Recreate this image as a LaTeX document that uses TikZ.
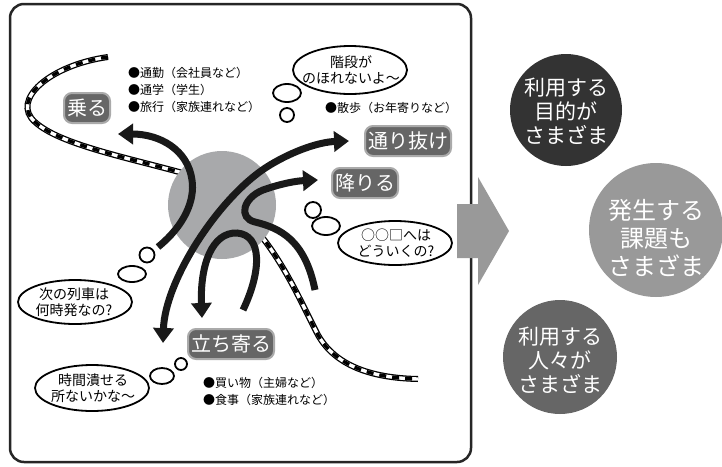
\documentclass[tikz,border=0pt]{standalone}
\usepackage{fontspec}
\setmainfont{Noto Sans CJK JP}
\usetikzlibrary{arrows.meta}
\definecolor{lbl}{HTML}{666666}
\definecolor{lblb}{HTML}{AAAAAA}
\definecolor{hub}{HTML}{A8A9AB}
\definecolor{c1}{HTML}{333333}
\definecolor{c2}{HTML}{999999}
\definecolor{c3}{HTML}{666666}
\tikzset{
  trackbase/.style={line width=6pt,black},
  trackwhite/.style={line width=3.4pt,white},
  trackdash/.style={line width=3.4pt,black,dash pattern=on 7pt off 6pt},
  arr/.style={line width=7pt,color=black!90,-{Triangle[length=15pt,width=20pt]}},
  lab/.style={fill=lbl,draw=lblb,line width=2pt,rounded corners=8pt,text=white,font=\fontsize{20}{22}\selectfont,inner xsep=3pt,inner ysep=1pt,minimum height=30pt},
  bubtxt/.style={align=center,font=\fontsize{14}{16}\selectfont},
  bul/.style={anchor=west,font=\fontsize{12}{14}\selectfont,inner sep=0pt},
  ctxt/.style={align=center,text=white,font=\fontsize{21}{24}\selectfont},
}
\begin{document}
\begin{tikzpicture}[x=1pt,y=-1pt]
\useasboundingbox[fill=white] (0,0) rectangle (722,466);
% frame
\draw[line width=2.5pt,rounded corners=14pt,draw=black!85] (10,4) rectangle (471,462);
% tracks
\def\trackA{(108,57) .. controls (50,65) and (10,100) .. (35,122) .. controls (60,145) and (130,158) .. (190,175)}
\def\trackB{(258,232) .. controls (285,265) and (300,300) .. (318,335) .. controls (335,365) and (370,378) .. (418,379)}
\draw[trackbase] \trackA; \draw[trackwhite] \trackA; \draw[trackdash] \trackA;
\draw[trackbase] \trackB; \draw[trackwhite] \trackB; \draw[trackdash] \trackB;
% hub
\fill[hub] (222,205) circle (54);
\node (hub) at (222,205) {};
% arrows
\coordinate (a1s) at (158,247);
\coordinate (a1e) at (118,134);
\draw[arr] (a1s) .. controls (185,225) and (195,200) .. (192,180) .. controls (188,150) and (160,134) .. (a1e);
\coordinate (a2s) at (163,343);
\coordinate (a2e) at (349,141);
\draw[line width=7pt,color=black!90,{Triangle[length=15pt,width=20pt]}-{Triangle[length=15pt,width=20pt]}] (a2s) .. controls (165,280) and (220,195) .. (270,165) .. controls (295,150) and (320,142) .. (a2e);
\coordinate (a3s) at (315,290);
\coordinate (a3e) at (318,180);
\draw[arr] (a3s) .. controls (305,240) and (280,228) .. (255,222) .. controls (238,218) and (243,198) .. (263,190) .. controls (280,184) and (295,181) .. (a3e);
\coordinate (a4s) at (243,310);
\coordinate (a4e) at (202,318);
\draw[arr] (a4s) .. controls (262,270) and (262,235) .. (237,233) .. controls (212,232) and (200,265) .. (a4e);
% labels
\node[lab] (noru) at (87,108) {乗る};
\node[lab] (toori) at (408,141) {通り抜け};
\node[lab] (oriru) at (365,183) {降りる};
\node[lab] (tachi) at (231,344) {立ち寄る};
% bullets
\node[bul] (b1) at (128,73) {●通勤（会社員など）};
\node[bul] (b2) at (128,90) {●通学（学生）};
\node[bul] (b3) at (128,107) {●旅行（家族連れなど）};
\node[bul] (b4) at (325,108) {●散歩（お年寄りなど）};
\node[bul] (b5) at (203,383) {●買い物（主婦など）};
\node[bul] (b6) at (203,400) {●食事（家族連れなど）};
% bubbles
\draw[line width=1.8pt] (350,70) ellipse (57 and 24);
\node[bubtxt] (q1) at (351,70) {階段が\\のほれないよ〜};
\draw[line width=1.8pt] (287,93) ellipse (14 and 9);
\draw[line width=1.8pt] (287,115) circle (7);
\draw[line width=1.8pt] (395,243) ellipse (57 and 22);
\node[bubtxt] (q2) at (396,243) {○○□へは\\どういくの?};
\draw[line width=1.8pt] (313,210) circle (8);
\draw[line width=1.8pt] (326,226) ellipse (14 and 9);
\draw[line width=1.8pt] (75,302) ellipse (57 and 22);
\node[bubtxt] (q3) at (74,302) {次の列車は\\何時発なの?};
\draw[line width=1.8pt] (147,255) circle (7.5);
\draw[line width=1.8pt] (132,274) ellipse (14 and 8);
\draw[line width=1.8pt] (92,388) ellipse (57 and 23);
\node[bubtxt] (q4) at (93,388) {時間潰せる\\所ないかな〜};
\draw[line width=1.8pt] (162,376) ellipse (12 and 8);
\draw[line width=1.8pt] (181,364) circle (6);
% big arrow
\fill[c2] (457,204) -- (478,204) -- (478,177) -- (509,231) -- (478,285) -- (478,258) -- (457,258) -- cycle;
\node (bigarrow) at (480,231) {};
% circles
\fill[c1] (566,110) circle (56);
\node[ctxt] (r1) at (566,111) {利用する\\目的が\\さまざま};
\fill[c2] (656,230) circle (67);
\node[ctxt,font=\fontsize{24}{28}\selectfont] (r2) at (656,238) {発生する\\課題も\\さまざま};
\fill[c3] (560,357) circle (57);
\node[ctxt] (r3) at (560,360) {利用する\\人々が\\さまざま};
\end{tikzpicture}
\end{document}
